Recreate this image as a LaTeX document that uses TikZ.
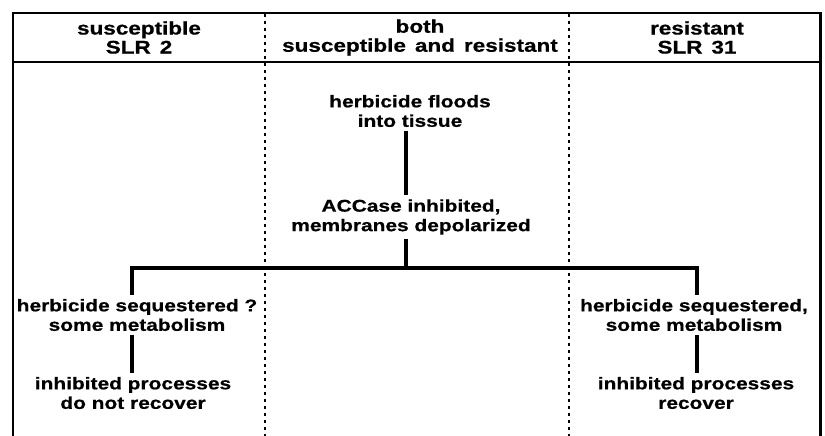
\documentclass[tikz,border=0pt]{standalone}
\usepackage{fontspec}
\newfontfamily\labfont[FakeStretch=1.23,FakeBold=0.6]{Liberation Sans}
\newcommand\widespaces{\spaceskip=9pt plus 2pt\relax}
\begin{document}
\begin{tikzpicture}[x=1pt,y=-1pt,
  lab/.style={align=center,inner sep=4pt,font=\labfont\bfseries\fontsize{17}{19.5}\selectfont},
  hdr/.style={align=center,inner sep=0pt,font=\labfont\bfseries\fontsize{18.3}{19}\selectfont,execute at begin node=\widespaces},
  frame/.style={line width=2.6pt},
  sep/.style={line width=2pt,dash pattern=on 3pt off 4pt},
  conn/.style={line width=3.3pt}]
\useasboundingbox (0,0) rectangle (825,436);
% frame
\draw[frame] (13,436) -- (13,13) -- (820.5,13) -- (820.5,436);
\draw[line width=2.4pt] (13,62) -- (820.5,62);
\draw[sep] (265,14) -- (265,436);
\draw[sep] (569,14) -- (569,436);
% headers
\node[hdr] (h1) at (139,37.5) {susceptible\\SLR 2};
\node[hdr] (h2) at (420,37.5) {both\\susceptible and resistant};
\node[hdr] (h3) at (697,37.5) {resistant\\SLR 31};
% flow
\node[lab] (flood) at (410,111) {herbicide floods\\into tissue};
\node[lab] (acc) at (411,217) {ACCase inhibited,\\membranes depolarized};
\node[lab] (lseq) at (137,315) {herbicide sequestered ?\\some metabolism};
\node[lab] (linh) at (133,393) {inhibited processes\\do not recover};
\node[lab] (rseq) at (694,315) {herbicide sequestered,\\some metabolism};
\node[lab] (rinh) at (696,393) {inhibited processes\\recover};
\coordinate (jc) at (406,268);
\coordinate (jl) at (132,268);
\coordinate (jr) at (697,268);
\draw[conn] (flood.south -| jc) -- (jc |- acc.north);
\draw[conn] (acc.south -| jc) -- (jc);
\draw[conn,line cap=rect] (jl) -- (jr);
\draw[conn] (jl) -- (jl |- lseq.north);
\draw[conn] (jr) -- (jr |- rseq.north);
\draw[conn] (lseq.south -| jl) -- (jl |- linh.north);
\draw[conn] (rseq.south -| jr) -- (jr |- rinh.north);
\end{tikzpicture}
\end{document}
